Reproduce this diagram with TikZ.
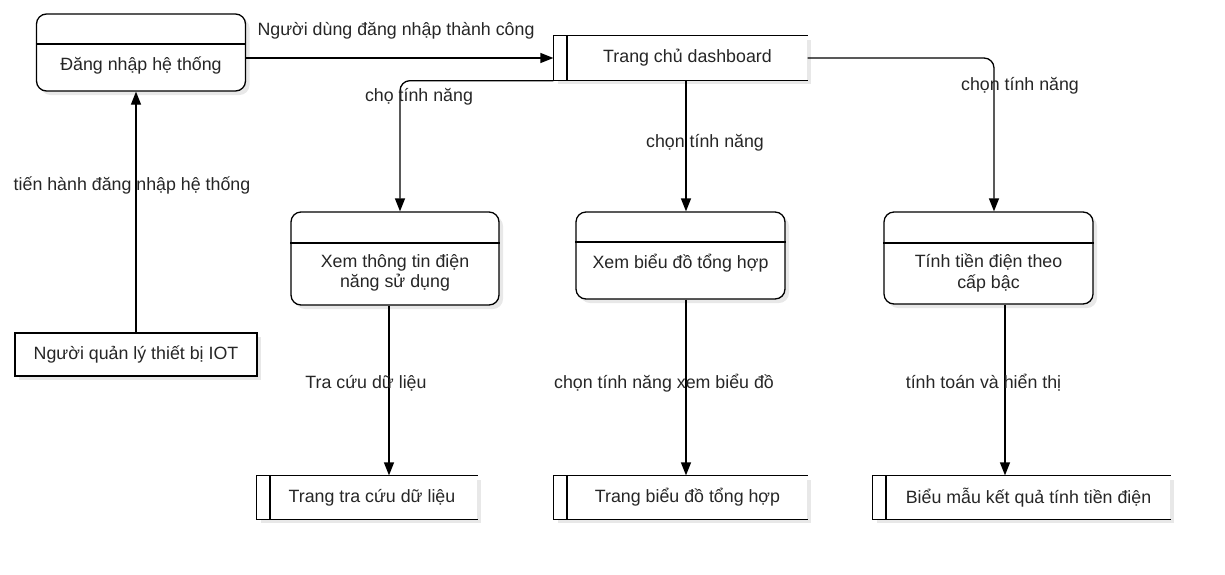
\documentclass[tikz,border=0pt]{standalone}
\usepackage{fontspec}
\setmainfont{Liberation Sans}
\usetikzlibrary{arrows.meta,shadows}
\newcommand\storelines[1]{%
  \draw (#1.north east) -- (#1.north west) -- (#1.south west) -- (#1.south east);
  \draw ([xshift=13.5pt]#1.north west) -- ([xshift=13.5pt]#1.south west);}
\begin{document}
\begin{tikzpicture}[x=1pt,y=-1pt,
  font=\fontsize{17.8}{20.5}\selectfont,
  line width=1.3pt,
  every node/.style={text=black!85},
  shad/.style={drop shadow={shadow xshift=4pt,shadow yshift=-4pt,fill=black!9,opacity=1}},
  arr/.style={-{Triangle[length=13pt,width=10pt]}},
  proc/.style={draw, rounded corners=10pt, fill=white, shad, inner sep=0pt},
  entity/.style={draw, fill=white, shad, inner sep=0pt},
  store/.style={fill=white, shad, inner sep=0pt},
  lbl/.style={inner sep=1pt, align=center},
]
\useasboundingbox (0,0) rectangle (1225,574);

% process boxes
\node[proc, minimum width=209pt, minimum height=77pt] (p1) at (141,52.5) {};
\node[proc, minimum width=208pt, minimum height=93pt] (p2) at (395,258.5) {};
\node[proc, minimum width=209pt, minimum height=87pt] (p3) at (680.5,255.5) {};
\node[proc, minimum width=209pt, minimum height=92pt] (p4) at (988.5,258) {};
\draw (p1.west |- 0,44) -- (p1.east |- 0,44);
\draw (p2.west |- 0,243) -- (p2.east |- 0,243);
\draw (p3.west |- 0,242) -- (p3.east |- 0,242);
\draw (p4.west |- 0,243) -- (p4.east |- 0,243);
\node[lbl] (p1t) at (141,66) {Đăng nhập hệ thống};
\node[lbl] (p2t) at (395,273) {Xem thông tin điện\\năng sử dụng};
\node[lbl] (p3t) at (680.5,263) {Xem biểu đồ tổng hợp};
\node[lbl] (p4t) at (988.5,273) {Tính tiền điện theo\\cấp bậc};

% external entity
\node[entity, minimum width=242pt, minimum height=43pt] (e) at (136,354.5) {Người quản lý thiết bị IOT};

% data stores
\node[store, minimum width=253pt, minimum height=44pt] (s1) at (680.5,58) {\hspace*{14pt}Trang chủ dashboard};
\node[store, minimum width=220pt, minimum height=43pt] (s2) at (367,497.5) {\hspace*{10pt}Trang tra cứu dữ liệu};
\node[store, minimum width=253pt, minimum height=43pt] (s3) at (680.5,497.5) {\hspace*{14pt}Trang biểu đồ tổng hợp};
\node[store, minimum width=297pt, minimum height=43pt] (s4) at (1021.5,497.5) {\hspace*{14pt}Biểu mẫu kết quả tính tiền điện};
\storelines{s1}
\storelines{s2}
\storelines{s3}
\storelines{s4}

% connectors
\draw[arr] (p1.east |- s1.west) -- (s1.west);
\draw[arr] (e.north) -- (e.north |- p1.south);
\draw[arr, rounded corners=10pt] (s1.south west) -| ([xshift=5pt]p2.north);
\draw[arr] ([xshift=5.5pt]s1.south) -- ([xshift=5.5pt]p3.north);
\draw[arr, rounded corners=10pt] (s1.east) -| ([xshift=5.5pt]p4.north);
\draw[arr] ([xshift=-6pt]p2.south) -- ([xshift=-6pt]p2.south |- s2.north);
\draw[arr] ([xshift=5.5pt]p3.south) -- ([xshift=5.5pt]p3.south |- s3.north);
\draw[arr] ([xshift=16.5pt]p4.south) -- ([xshift=16.5pt]p4.south |- s4.north);

% labels
\node[lbl] (l1) at (396,31) {Người dùng đăng nhập thành công};
\node[lbl] (l2) at (132,185) {tiến hành đăng nhập hệ thống};
\node[lbl] (l3) at (419,97) {chọ tính năng};
\node[lbl] (l4) at (705,143) {chọn tính năng};
\node[lbl] (l5) at (1020,86) {chọn tính năng};
\node[lbl] (l6) at (366,383) {Tra cứu dữ liệu};
\node[lbl] (l7) at (664,383) {chọn tính năng xem biểu đồ};
\node[lbl] (l8) at (983.5,383) {tính toán và hiển thị};
\end{tikzpicture}
\end{document}
